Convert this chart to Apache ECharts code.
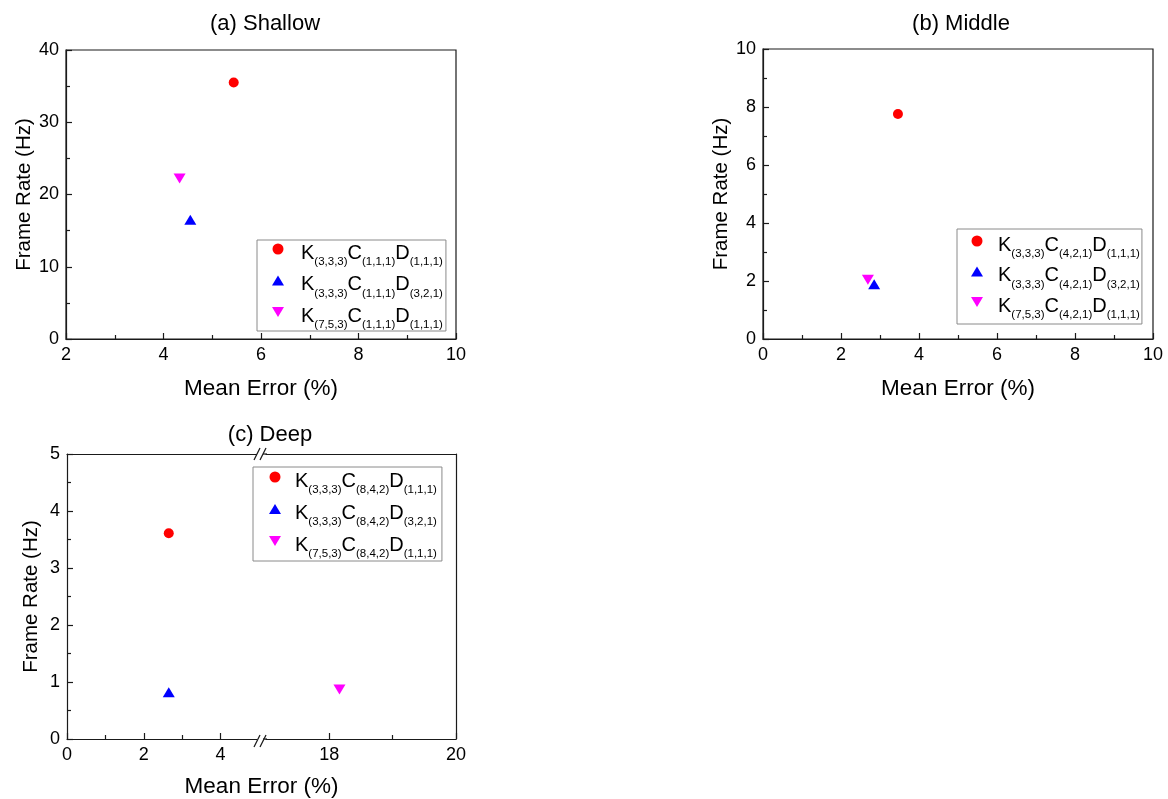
<!DOCTYPE html>
<html>
<head>
<meta charset="utf-8">
<script src="https://cdn.jsdelivr.net/npm/echarts@6/dist/echarts.min.js"></script>
<style>html,body{margin:0;padding:0;background:#fff;}#c{width:1168px;height:799px;}</style>
</head>
<body>
<div id="c"></div>
<script>
// ---- data ----
const shallowNames = ['K(3,3,3)C(1,1,1)D(1,1,1)', 'K(3,3,3)C(1,1,1)D(3,2,1)', 'K(7,5,3)C(1,1,1)D(1,1,1)'];
const shallowError = [5.44, 4.55, 4.33];
const shallowRate  = [35.5, 16.5, 22.2];

const middleNames = ['K(3,3,3)C(4,2,1)D(1,1,1)', 'K(3,3,3)C(4,2,1)D(3,2,1)', 'K(7,5,3)C(4,2,1)D(1,1,1)'];
const middleError = [3.46, 2.85, 2.69];
const middleRate  = [7.76, 1.89, 2.04];

const deepNames = ['K(3,3,3)C(8,4,2)D(1,1,1)', 'K(3,3,3)C(8,4,2)D(3,2,1)', 'K(7,5,3)C(8,4,2)D(1,1,1)'];
const deepError = [2.65, 2.65, 18.16];
const deepRate  = [3.61, 0.82, 0.87];

const titles = ['(a) Shallow', '(b) Middle', '(c) Deep'];
const xName = 'Mean Error (%)';
const yName = 'Frame Rate (Hz)';
const deepLeftLabels = [0, 2, 4];
const deepLeftMinor = [1, 3];
const deepRightLabels = [18, 20];
const deepRightMinor = [19];

const colors = ['#ff0000', '#0000ff', '#ff00ff'];
const upTri = 'path://M6,0 L12,10 L0,10 Z';
const downTri = 'path://M0,0 L12,0 L6,10 Z';
const symbols = ['circle', upTri, downTri];
const sizes = [10, [12, 10], [12, 10]];
const FONT = '"Liberation Sans", Arial, sans-serif';
const AX = '#1a1a1a';
const TICK_FS = 18, XNAME_FS = 22.5, YNAME_FS = 20.5, TITLE_FS = 22;

const chart = echarts.init(document.getElementById('c'), null, {renderer: 'canvas'});

function makeRich(gapW) {
  return {
    g: {width: gapW, fontSize: 12, lineHeight: 12},
    m: {fontSize: 20, lineHeight: 18, padding: [3, 0, 3, 0], verticalAlign: 'top', fontFamily: FONT, color: '#000'},
    s: {fontSize: 11.5, lineHeight: 11, padding: [16, 0, 0, 0], verticalAlign: 'top', fontFamily: FONT, color: '#000'}
  };
}
function legendFmt(n) {
  return '{g| }' + n.replace(/([A-Z])(\([^)]*\))/g, '{m|$1}{s|$2}');
}
function legend(names, left, top, pad, gap, gapW) {
  return {
    data: names, orient: 'vertical', left: left, top: top,
    itemWidth: 12, itemHeight: 11, itemGap: gap, padding: pad,
    borderColor: '#8a8a8a', borderWidth: 1, selectedMode: false,
    formatter: legendFmt, textStyle: {rich: makeRich(gapW), fontFamily: FONT}
  };
}
function valAxis(gridIndex, min, max, interval, opts) {
  return Object.assign({
    type: 'value', gridIndex: gridIndex, min: min, max: max, interval: interval,
    splitLine: {show: false},
    axisLine: {show: true, lineStyle: {color: AX, width: 1.2}},
    axisTick: {show: true, inside: true, length: 6, lineStyle: {color: AX, width: 1.2}},
    minorTick: {show: true, splitNumber: 2, length: 4, lineStyle: {color: AX, width: 1.2}},
    axisLabel: {color: '#000', fontSize: TICK_FS, fontFamily: FONT, margin: 7}
  }, opts || {});
}
function xOpts(gap) { return {name: xName, nameLocation: 'middle', nameGap: gap,
  nameTextStyle: {color: '#000', fontSize: XNAME_FS, fontFamily: FONT}}; }
function yOpts(gap) { return {name: yName, nameLocation: 'middle', nameGap: gap,
  nameTextStyle: {color: '#000', fontSize: YNAME_FS, fontFamily: FONT}}; }

function scatterSeries(names, xs, ys, xIdx, yIdx, which) {
  return which.map(i => ({
    type: 'scatter', name: names[i], xAxisIndex: xIdx[i], yAxisIndex: yIdx[i],
    data: [[xs[i], ys[i]]], symbol: symbols[i], symbolSize: sizes[i],
    itemStyle: {color: colors[i], opacity: 1}, emphasis: {disabled: true}
  }));
}

const grids = [
  {left: 66, top: 50, width: 390, height: 289, show: true, borderColor: AX, borderWidth: 1.2},
  {left: 763, top: 49, width: 390, height: 290, show: true, borderColor: AX, borderWidth: 1.2},
  {left: 67, top: 454, width: 192, height: 285},
  {left: 266, top: 454, width: 190, height: 285},
  {left: 67, top: 454, width: 389, height: 285}   // whole panel (c), for the shared x-axis title
];

const noLabelAxis = (gi, min, max, pos) => ({
  type: 'value', gridIndex: gi, min: min, max: max, position: pos,
  splitLine: {show: false}, axisTick: {show: false}, axisLabel: {show: false},
  axisLine: {show: true, onZero: false, lineStyle: {color: AX, width: 1.2}}
});
const hiddenAxis = (gi, opts) => Object.assign({
  type: 'value', gridIndex: gi, min: 0, max: 1,
  splitLine: {show: false}, axisTick: {show: false}, axisLabel: {show: false},
  axisLine: {show: false}
}, opts || {});

const xAxes = [
  valAxis(0, 2, 10, 2, xOpts(38)),
  valAxis(1, 0, 10, 2, xOpts(38)),
  valAxis(2, 0, 5, 1, {
    position: 'bottom',
    minorTick: {show: false},
    axisTick: {show: true, inside: true, length: 6, customValues: deepLeftLabels, lineStyle: {color: AX, width: 1.2}},
    axisLabel: {color: '#000', fontSize: TICK_FS, fontFamily: FONT, margin: 7, customValues: deepLeftLabels}
  }),
  {type: 'value', gridIndex: 2, min: 0, max: 5, position: 'bottom', splitLine: {show: false},
   axisLine: {show: false}, axisLabel: {show: false},
   axisTick: {show: true, inside: true, length: 4, customValues: deepLeftMinor, lineStyle: {color: AX, width: 1.2}}},
  noLabelAxis(2, 0, 5, 'top'),
  valAxis(3, 17, 20, 1, {
    position: 'bottom',
    minorTick: {show: false},
    axisTick: {show: true, inside: true, length: 6, customValues: deepRightLabels, lineStyle: {color: AX, width: 1.2}},
    axisLabel: {color: '#000', fontSize: TICK_FS, fontFamily: FONT, margin: 7, customValues: deepRightLabels}
  }),
  {type: 'value', gridIndex: 3, min: 17, max: 20, position: 'bottom', splitLine: {show: false},
   axisLine: {show: false}, axisLabel: {show: false},
   axisTick: {show: true, inside: true, length: 4, customValues: deepRightMinor, lineStyle: {color: AX, width: 1.2}}},
  noLabelAxis(3, 17, 20, 'top'),
  hiddenAxis(4, Object.assign(xOpts(38), {position: 'bottom'}))
];
const yAxes = [
  valAxis(0, 0, 40, 10, yOpts(31)),
  valAxis(1, 0, 10, 2, yOpts(31)),
  valAxis(2, 0, 5, 1, Object.assign(yOpts(25), {position: 'left'})),
  noLabelAxis(3, 0, 5, 'right'),
  hiddenAxis(4)
];

const series = [].concat(
  scatterSeries(shallowNames, shallowError, shallowRate, [0,0,0], [0,0,0], [0,1,2]),
  scatterSeries(middleNames, middleError, middleRate, [1,1,1], [1,1,1], [0,1,2]),
  scatterSeries(deepNames, deepError, deepRate, [2,2,5], [2,2,3], [0,1,2])
);

// axis break marks for panel (c)
function slashes(y) {
  return [
    {type: 'line', shape: {x1: 254, y1: y + 6, x2: 260, y2: y - 6}, style: {stroke: AX, lineWidth: 1.2}, z: 100},
    {type: 'line', shape: {x1: 260, y1: y + 6, x2: 266, y2: y - 6}, style: {stroke: AX, lineWidth: 1.2}, z: 100}
  ];
}
const graphics = [].concat(
  [{type: 'line', shape: {x1: 258, y1: 454, x2: 267, y2: 454}, style: {stroke: AX, lineWidth: 1.2}}],
  [{type: 'line', shape: {x1: 258, y1: 739, x2: 267, y2: 739}, style: {stroke: AX, lineWidth: 1.2}}],
  [{type: 'rect', shape: {x: 257, y: 450, width: 6, height: 8}, style: {fill: '#fff'}, z: 99},
   {type: 'rect', shape: {x: 257, y: 735, width: 6, height: 8}, style: {fill: '#fff'}, z: 99}],
  slashes(454), slashes(741)
);

const titleStyle = {fontSize: TITLE_FS, fontWeight: 'normal', color: '#000', fontFamily: FONT};
chart.setOption({
  backgroundColor: '#fff',
  animation: false,
  textStyle: {fontFamily: FONT},
  title: [
    {text: titles[0], left: 265, top: 13, padding: 0, textAlign: 'center', textStyle: titleStyle},
    {text: titles[1], left: 961, top: 13, padding: 0, textAlign: 'center', textStyle: titleStyle},
    {text: titles[2], left: 270, top: 424, padding: 0, textAlign: 'center', textStyle: titleStyle}
  ],
  legend: [
    legend(shallowNames, 257, 240, [0, 3, 0, 15], 3.5, 12),
    legend(middleNames, 957, 229, [3, 2, 3, 14], 2.5, 10),
    legend(deepNames, 253, 467, [1, 5, 1, 16], 4, 9)
  ],
  grid: grids,
  xAxis: xAxes,
  yAxis: yAxes,
  series: series,
  graphic: graphics
});
</script>
</body>
</html>
